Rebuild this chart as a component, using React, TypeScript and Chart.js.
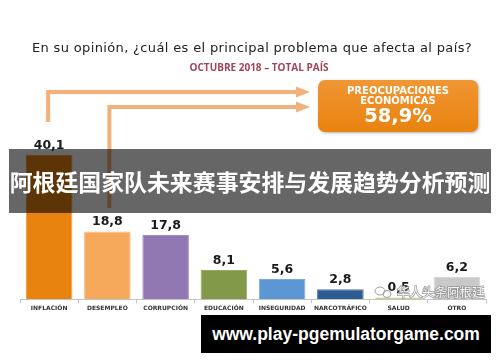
import React, { useEffect, useRef } from "react";
import { Chart, registerables } from "chart.js";

Chart.register(...registerables);

const categories = ["INFLACIÓN", "DESEMPLEO", "CORRUPCIÓN", "EDUCACIÓN", "INSEGURIDAD", "NARCOTRÁFICO", "SALUD", "OTRO"];
const values = [40.1, 18.8, 17.8, 8.1, 5.6, 2.8, 0.5, 6.2];
const barColors = ["#E9830F", "#F6A95B", "#9278B3", "#83994A", "#5B97D2", "#2C5B92", "#A8C46C", "#C9C9C9"];
const barBorders = ["#F19A3E", "#F9BC80", "#A58FC2", "#97AB66", "#7AABDB", "#4A74A6", "#BDD38C", "#D8D8D8"];
const titleText = "En su opinión, ¿cuál es el principal problema que afecta al país?";
const subtitleText = "OCTUBRE 2018 – TOTAL PAÍS";
const boxLines = ["PREOCUPACIONES", "ECONÓMICAS"];
const boxValue = "58,9%";
const bannerText = "阿根廷国家队未来赛事安排与发展趋势分析预测";
const urlText = "www.play-pgemulatorgame.com";
const watermarkText = "华人头条阿根廷";

const fmt = (v: number) => v.toFixed(1).replace(".", ",");

const overlayPlugin = {
  id: "overlay",
  afterDatasetsDraw(chart: any) {
    const ctx = chart.ctx;
    const meta = chart.getDatasetMeta(0);
    ctx.save();
    ctx.font = "bold 12.5px 'DejaVu Sans'";
    ctx.fillStyle = "#1a1a1a";
    ctx.textAlign = "center";
    ctx.textBaseline = "alphabetic";
    meta.data.forEach((el: any, i: number) => {
      ctx.fillText(fmt(values[i]), el.x, el.y - 6);
    });
    ctx.restore();
  },
  afterDraw(chart: any) {
    const ctx = chart.ctx;
    const meta = chart.getDatasetMeta(0);
    const x0 = meta.data[0].x - 1;
    const x1 = meta.data[1].x + 2;
    ctx.save();
    // arrows
    ctx.strokeStyle = "#F4B07A";
    ctx.fillStyle = "#F4B07A";
    ctx.lineWidth = 4;
    ctx.lineJoin = "miter";
    const drawArrow = (x: number, yStart: number, yH: number) => {
      ctx.beginPath();
      ctx.moveTo(x, yStart);
      ctx.lineTo(x, yH);
      ctx.lineTo(298, yH);
      ctx.stroke();
      ctx.beginPath();
      ctx.moveTo(296, yH - 5.5);
      ctx.lineTo(310, yH);
      ctx.lineTo(296, yH + 5.5);
      ctx.closePath();
      ctx.fill();
    };
    drawArrow(x0, 122, 92);
    drawArrow(x1, 208, 107);
    // orange box
    const bx = 318, by = 80, bw = 160, bh = 52, r = 7;
    ctx.save();
    ctx.shadowColor = "rgba(0,0,0,0.3)";
    ctx.shadowBlur = 3;
    ctx.shadowOffsetX = 1;
    ctx.shadowOffsetY = 1;
    const g = ctx.createLinearGradient(0, by, 0, by + bh);
    g.addColorStop(0, "#F09633");
    g.addColorStop(1, "#E9830F");
    ctx.fillStyle = g;
    ctx.beginPath();
    ctx.roundRect(bx, by, bw, bh, r);
    ctx.fill();
    ctx.restore();
    ctx.fillStyle = "#ffffff";
    ctx.textAlign = "center";
    ctx.textBaseline = "alphabetic";
    ctx.font = "bold 10px 'DejaVu Sans'";
    ctx.fillText(boxLines[0], bx + bw / 2, 94);
    ctx.fillText(boxLines[1], bx + bw / 2, 103.5);
    ctx.font = "bold 19.5px 'DejaVu Sans'";
    ctx.fillText(boxValue, bx + bw / 2, 121.5);
    // watermark
    ctx.strokeStyle = "rgba(150,150,150,0.9)";
    ctx.lineWidth = 1;
    ctx.beginPath();
    ctx.ellipse(380, 291, 5, 4, 0, 0, Math.PI * 2);
    ctx.stroke();
    ctx.beginPath();
    ctx.ellipse(387, 294, 4, 3.5, 0, 0, Math.PI * 2);
    ctx.stroke();
    ctx.font = "12.5px 'Noto Sans CJK SC'";
    ctx.textAlign = "left";
    ctx.lineWidth = 1.5;
    ctx.strokeStyle = "rgba(140,140,140,0.85)";
    ctx.strokeText(watermarkText, 397, 297);
    ctx.fillStyle = "rgba(255,255,255,0.9)";
    ctx.fillText(watermarkText, 397, 297);
    ctx.restore();
  },
};

export default function App() {
  const canvasRef = useRef<HTMLCanvasElement | null>(null);
  useEffect(() => {
    if (!canvasRef.current) return;
    const chart = new Chart(canvasRef.current, {
      type: "bar",
      data: {
        labels: categories,
        datasets: [
          {
            data: values,
            backgroundColor: barColors,
            borderColor: barBorders,
            borderWidth: 1,
            categoryPercentage: 1,
            barPercentage: 0.8,
          },
        ],
      },
      options: {
        animation: false,
        responsive: false,
        events: [],
        layout: { padding: { top: 137, left: 20, right: 14, bottom: 47.5 } },
        plugins: { legend: { display: false }, tooltip: { enabled: false }, title: { display: false } },
        scales: {
          x: {
            offset: true,
            grid: { display: true, drawOnChartArea: false, drawTicks: true, tickLength: 4, color: "#c4c4c4", offset: true },
            border: { display: true, color: "#c4c4c4" },
            ticks: {
              font: { family: "'DejaVu Sans'", size: 6, weight: "bold" },
              color: "#333333",
              padding: 2,
              maxRotation: 0,
              autoSkip: false,
            },
          },
          y: { display: false, min: 0, max: 45 },
        },
      },
      plugins: [overlayPlugin],
    });
    return () => chart.destroy();
  }, []);

  return (
    <div style={{ position: "absolute", left: 0, top: 0, width: 500, height: 362, background: "#ffffff", overflow: "hidden" }}>
      <canvas ref={canvasRef} width={500} height={362} style={{ position: "absolute", left: 0, top: 0, width: 500, height: 362 }} />
      <div
        style={{
          position: "absolute", left: 2, top: 41, width: 500, textAlign: "center",
          font: "13px 'DejaVu Sans'", letterSpacing: "0.35px", lineHeight: "14px", color: "#222222", whiteSpace: "nowrap",
        }}
      >
        {titleText}
      </div>
      <div
        style={{
          position: "absolute", left: 9, top: 61, width: 500, textAlign: "center",
          font: "bold 10px 'Open Sans'", lineHeight: "12px", color: "#A04458", whiteSpace: "nowrap",
        }}
      >
        {subtitleText}
      </div>
      <div
        style={{
          position: "absolute", left: 9, top: 149, width: 482, height: 64, background: "rgba(0,0,0,0.6)",
          color: "#ffffff", font: "bold 22.9px 'Noto Sans CJK SC'", lineHeight: "64px", textAlign: "center",
          whiteSpace: "nowrap", overflow: "hidden",
        }}
      >
        {bannerText}
      </div>
      <div
        style={{
          position: "absolute", left: 201, top: 315, width: 290, height: 38, background: "#000000",
          color: "#ffffff", font: "bold 17.5px 'Liberation Sans'", lineHeight: "38px", textAlign: "center",
          whiteSpace: "nowrap",
        }}
      >
        {urlText}
      </div>
    </div>
  );
}
